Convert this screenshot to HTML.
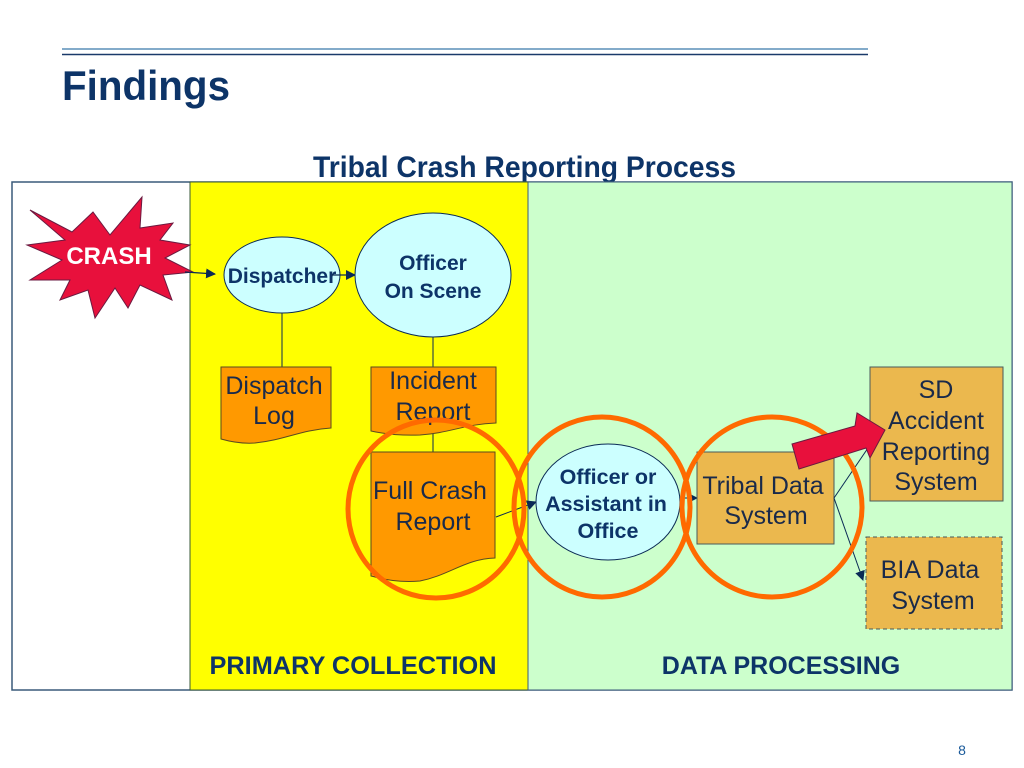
<!DOCTYPE html>
<html><head><meta charset="utf-8"><style>
html,body{margin:0;padding:0;background:#fff;}
svg{display:block;font-family:"Liberation Sans",sans-serif;}
</style></head><body>
<svg width="1024" height="768" viewBox="0 0 1024 768">
<defs>
<marker id="ah" markerWidth="10" markerHeight="10" refX="9" refY="5" orient="auto" markerUnits="userSpaceOnUse"><path d="M0,0 L10,5 L0,10 z" fill="#0a2a55"/></marker>
</defs>
<line x1="62" y1="49" x2="868" y2="49" stroke="#5a8fb8" stroke-width="1.5"/>
<line x1="62" y1="54.5" x2="868" y2="54.5" stroke="#1a3a6a" stroke-width="1.5"/>
<text x="62" y="100" font-size="42" font-weight="bold" fill="#0d3468" textLength="168" lengthAdjust="spacingAndGlyphs">Findings</text>
<text x="313" y="177" font-size="30" font-weight="bold" fill="#0d3468" textLength="423" lengthAdjust="spacingAndGlyphs">Tribal Crash Reporting Process</text>

<rect x="12" y="182" width="1000" height="508" fill="#fff" stroke="#3a5a7a" stroke-width="1.5"/>
<rect x="190" y="182" width="338" height="508" fill="#ffff00" stroke="#3a5a3a" stroke-width="1"/>
<rect x="528" y="182" width="484" height="508" fill="#ccffcc" stroke="#3a5a7a" stroke-width="1"/>

<polygon points="30,210 72,232 93,212 110,235 142,197 140,228 173,223 160,240 190,245 165,258 193,272 163,275 172,300 140,285 128,308 115,288 95,318 88,290 60,300 70,280 30,280 62,260 27,245 65,240" fill="#e8103c" stroke="#6a1a40" stroke-width="1"/>
<text x="109" y="264" font-size="24" font-weight="bold" fill="#fff" text-anchor="middle">CRASH</text>
<line x1="185" y1="272" x2="215" y2="274" stroke="#0a2a55" stroke-width="1.2" marker-end="url(#ah)"/>

<ellipse cx="282" cy="275" rx="58" ry="38" fill="#ccffff" stroke="#0a2a55" stroke-width="1"/>
<text x="282" y="283" font-size="21" font-weight="bold" fill="#0d3468" text-anchor="middle">Dispatcher</text>
<line x1="332" y1="275" x2="355" y2="275" stroke="#0a2a55" stroke-width="1.2" marker-end="url(#ah)"/>
<ellipse cx="433" cy="275" rx="78" ry="62" fill="#ccffff" stroke="#0a2a55" stroke-width="1"/>
<text x="433" y="270" font-size="21" font-weight="bold" fill="#0d3468" text-anchor="middle">Officer</text>
<text x="433" y="298" font-size="21" font-weight="bold" fill="#0d3468" text-anchor="middle">On Scene</text>

<line x1="282" y1="313" x2="282" y2="367" stroke="#0a2a55" stroke-width="1"/>
<line x1="433" y1="337" x2="433" y2="367" stroke="#0a2a55" stroke-width="1"/>
<line x1="433" y1="423" x2="433" y2="452" stroke="#0a2a55" stroke-width="1"/>

<path d="M221,367 H331 V428 C300,430 285,440 255,443 C240,444 228,441 221,439 Z" fill="#ff9900" stroke="#5a4a20" stroke-width="1"/>
<text x="274" y="394" font-size="25" fill="#1a2a4a" text-anchor="middle">Dispatch</text>
<text x="274" y="424" font-size="25" fill="#1a2a4a" text-anchor="middle">Log</text>
<path d="M371,367 H496 V423 C465,424 450,433 420,435 C395,436 380,433 371,431 Z" fill="#ff9900" stroke="#5a4a20" stroke-width="1"/>
<text x="433" y="389" font-size="25" fill="#1a2a4a" text-anchor="middle">Incident</text>
<text x="433" y="420" font-size="25" fill="#1a2a4a" text-anchor="middle">Report</text>
<path d="M371,452 H495 V558 C465,559 450,575 420,581 C395,583 380,578 371,576 Z" fill="#ff9900" stroke="#5a4a20" stroke-width="1"/>
<text x="430" y="499" font-size="25" fill="#1a2a4a" text-anchor="middle">Full Crash</text>
<text x="433" y="530" font-size="25" fill="#1a2a4a" text-anchor="middle">Report</text>
<line x1="496" y1="517" x2="536" y2="502" stroke="#0a2a55" stroke-width="1" marker-end="url(#ah)"/>

<ellipse cx="608" cy="502" rx="72" ry="58" fill="#ccffff" stroke="#0a2a55" stroke-width="1"/>
<text x="608" y="484" font-size="21.5" font-weight="bold" fill="#0d3468" text-anchor="middle">Officer or</text>
<text x="606" y="511" font-size="21.5" font-weight="bold" fill="#0d3468" text-anchor="middle">Assistant in</text>
<text x="608" y="538" font-size="21.5" font-weight="bold" fill="#0d3468" text-anchor="middle">Office</text>
<line x1="680" y1="498" x2="697" y2="498" stroke="#0a2a55" stroke-width="1" marker-end="url(#ah)"/>

<rect x="697" y="452" width="137" height="92" fill="#ebb84e" stroke="#4a5a5a" stroke-width="1"/>
<text x="763" y="494" font-size="25" fill="#1a2a4a" text-anchor="middle">Tribal Data</text>
<text x="766" y="524" font-size="25" fill="#1a2a4a" text-anchor="middle">System</text>

<rect x="870" y="367" width="133" height="134" fill="#ebb84e" stroke="#4a5a5a" stroke-width="1"/>
<text x="936" y="398" font-size="25" fill="#1a2a4a" text-anchor="middle">SD</text>
<text x="936" y="429" font-size="25" fill="#1a2a4a" text-anchor="middle">Accident</text>
<text x="936" y="460" font-size="25" fill="#1a2a4a" text-anchor="middle">Reporting</text>
<text x="936" y="490" font-size="25" fill="#1a2a4a" text-anchor="middle">System</text>

<rect x="866" y="537" width="136" height="92" fill="#ebb84e" stroke="#4a5a5a" stroke-width="1" stroke-dasharray="4,3"/>
<text x="930" y="578" font-size="25" fill="#1a2a4a" text-anchor="middle">BIA Data</text>
<text x="933" y="609" font-size="25" fill="#1a2a4a" text-anchor="middle">System</text>

<line x1="834" y1="498" x2="868" y2="448" stroke="#0a2a55" stroke-width="1"/>
<line x1="834" y1="498" x2="863" y2="580" stroke="#0a2a55" stroke-width="1" marker-end="url(#ah)"/>

<ellipse cx="436" cy="509" rx="88" ry="89" fill="none" stroke="#ff6a00" stroke-width="5"/>
<ellipse cx="602" cy="507" rx="88" ry="90" fill="none" stroke="#ff6a00" stroke-width="5"/>
<ellipse cx="772" cy="507" rx="90" ry="90" fill="none" stroke="#ff6a00" stroke-width="5"/>

<polygon points="792,444 855,426 857,413 885,430 870,458 866,448 799,469" fill="#e8103c" stroke="#6a1a40" stroke-width="1"/>

<text x="353" y="674" font-size="25" font-weight="bold" fill="#0d3468" text-anchor="middle" textLength="287" lengthAdjust="spacingAndGlyphs">PRIMARY COLLECTION</text>
<text x="781" y="674" font-size="25" font-weight="bold" fill="#0d3468" text-anchor="middle">DATA PROCESSING</text>
<text x="962" y="755" font-size="14" fill="#1a5a9a" text-anchor="middle">8</text>
</svg>
</body></html>
